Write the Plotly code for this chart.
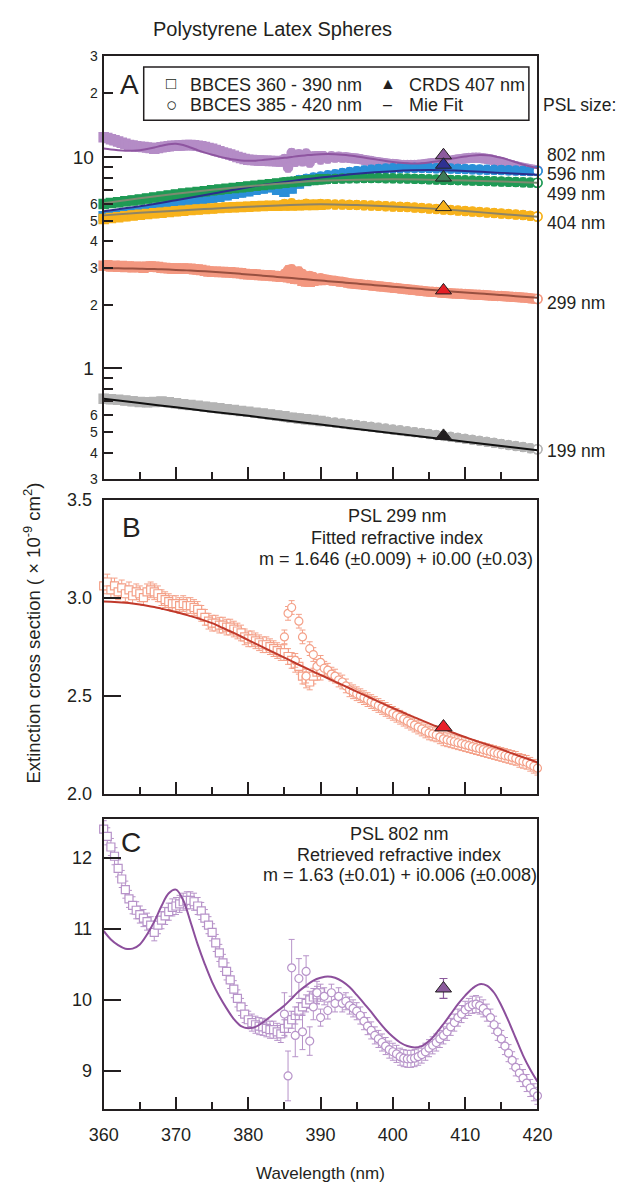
import math
import plotly.graph_objects as go

W, H = 644, 1198
FONT = "Liberation Sans, Arial, Helvetica, sans-serif"
INK = "#231f20"

# ---------------- wavelength grids (nm) ----------------
WL_SQ_FINE = [360 + 0.5 * i for i in range(61)]   # BBCES 360-390 nm
WL_CI_FINE = [385 + 0.5 * i for i in range(71)]   # BBCES 385-420 nm
WL_SQ = list(range(360, 391))
WL_CI = list(range(385, 421))
WL_FIT1 = list(range(360, 421))
WL_FIT5 = list(range(360, 421, 5))
WL_CRDS = [407]

# ---------------- PSL 299 nm (panel B and A) ----------------
B_SQ = [3.06, 3.08, 3.04, 3.06, 3.03, 3.05, 3.02, 3.04, 3.01, 3.03,
        3.02, 3.00, 3.03, 3.04, 3.03, 3.02, 3.00, 2.99, 2.98, 2.97,
        2.97, 2.96, 2.97, 2.96, 2.96, 2.95, 2.94, 2.92, 2.90, 2.88,
        2.87, 2.87, 2.86, 2.86, 2.85, 2.85, 2.84, 2.83, 2.82, 2.80,
        2.79, 2.79, 2.78, 2.77, 2.76, 2.76, 2.75, 2.74, 2.73, 2.72,
        2.72, 2.70, 2.68, 2.66, 2.65, 2.60, 2.58, 2.57, 2.60, 2.62,
        2.62]
B_CI = [2.80, 2.92, 2.95, 2.68, 2.88, 2.80, 2.60, 2.74, 2.71, 2.65,
        2.67, 2.64, 2.63, 2.61, 2.60, 2.58, 2.57, 2.55, 2.53, 2.52,
        2.51, 2.50, 2.49, 2.48, 2.47, 2.46, 2.45, 2.44, 2.43, 2.42,
        2.41, 2.40, 2.39, 2.38, 2.37, 2.36, 2.35, 2.34, 2.33, 2.32,
        2.31, 2.305, 2.30, 2.29, 2.28, 2.275, 2.27, 2.265, 2.26, 2.255,
        2.25, 2.245, 2.24, 2.235, 2.23, 2.225, 2.22, 2.215, 2.21, 2.205,
        2.20, 2.195, 2.19, 2.185, 2.18, 2.17, 2.165, 2.16, 2.15, 2.14,
        2.13]
B_FIT = [2.980, 2.979, 2.977, 2.974, 2.970, 2.965, 2.959, 2.952, 2.944, 2.936,
         2.927, 2.917, 2.906, 2.895, 2.883, 2.870, 2.854, 2.837, 2.820, 2.802,
         2.784, 2.766, 2.748, 2.730, 2.712, 2.694, 2.676, 2.658, 2.641, 2.623,
         2.606, 2.589, 2.572, 2.555, 2.538, 2.521, 2.504, 2.487, 2.470, 2.453,
         2.437, 2.421, 2.405, 2.389, 2.374, 2.359, 2.344, 2.330, 2.316, 2.302,
         2.289, 2.276, 2.263, 2.251, 2.239, 2.227, 2.212, 2.199, 2.186, 2.173,
         2.160]
B_CRDS = [2.34]

# ---------------- PSL 802 nm (panel C and A) ----------------
C_SQ = [12.40, 12.30, 12.15, 12.02, 11.85, 11.70, 11.55, 11.42, 11.33, 11.26,
        11.20, 11.15, 11.10, 11.05, 10.95, 11.05, 11.12, 11.18, 11.24, 11.30,
        11.32, 11.35, 11.38, 11.40, 11.40, 11.38, 11.32, 11.25, 11.15, 11.05,
        10.95, 10.80, 10.66, 10.52, 10.40, 10.28, 10.15, 10.02, 9.90, 9.80,
        9.72, 9.68, 9.65, 9.63, 9.62, 9.60, 9.58, 9.58, 9.55, 9.52,
        9.60, 9.66, 9.72, 9.78, 9.84, 9.90, 9.95, 10.00, 10.04, 10.07,
        10.10]
C_CI = [9.80, 8.93, 10.45, 9.50, 10.30, 9.55, 10.40, 9.42, 9.90, 10.10,
        9.75, 10.05, 9.85, 10.10, 9.95, 10.05, 9.95, 9.98, 9.92, 9.88,
        9.84, 9.78, 9.70, 9.63, 9.57, 9.50, 9.45, 9.40, 9.35, 9.30,
        9.27, 9.24, 9.20, 9.18, 9.17, 9.17, 9.18, 9.20, 9.23, 9.27,
        9.32, 9.36, 9.40, 9.45, 9.50, 9.55, 9.62, 9.68, 9.75, 9.80,
        9.86, 9.90, 9.93, 9.94, 9.92, 9.88, 9.82, 9.75, 9.65, 9.55,
        9.45, 9.35, 9.25, 9.15, 9.05, 8.97, 8.90, 8.83, 8.76, 8.70,
        8.65]
C_CI_ERR = [0.30, 0.35, 0.40, 0.30, 0.28, 0.25, 0.22, 0.20, 0.18, 0.16] + [0.12] * 61
C_FIT = [10.97, 10.85, 10.77, 10.72, 10.72, 10.78, 10.92, 11.10, 11.32, 11.50,
         11.55, 11.40, 11.10, 10.78, 10.50, 10.25, 10.05, 9.88, 9.73, 9.63,
         9.60, 9.62, 9.68, 9.76, 9.84, 9.92, 10.02, 10.12, 10.20, 10.27,
         10.31, 10.33, 10.31, 10.26, 10.18, 10.07, 9.95, 9.83, 9.70, 9.58,
         9.48, 9.40, 9.35, 9.33, 9.35, 9.42, 9.53, 9.66, 9.80, 9.94,
         10.06, 10.16, 10.22, 10.20, 10.10, 9.92, 9.70, 9.46, 9.22, 9.02,
         8.85]
C_CRDS = [10.16]
C_CRDS_ERR = [0.14]

# ---------------- other PSL sizes (panel A only) ----------------
S596_SQ = [5.25, 5.30, 5.34, 5.40, 5.46, 5.52, 5.60, 5.70, 5.80, 5.90,
           5.98, 6.06, 6.14, 6.22, 6.30, 6.40, 6.50, 6.60, 6.70, 6.80,
           6.90, 7.00, 7.10, 7.20, 7.00, 6.85, 7.10, 7.50, 7.70, 7.85, 7.95]
S596_CI = [7.50, 7.65, 7.80, 7.90, 8.00, 8.10, 8.20, 8.30, 8.40, 8.50,
           8.58, 8.65, 8.72, 8.78, 8.82, 8.85, 8.88, 8.90, 8.90, 8.90,
           8.88, 8.86, 8.84, 8.82, 8.80, 8.78, 8.76, 8.74, 8.72, 8.70,
           8.68, 8.66, 8.64, 8.62, 8.60, 8.60]
S596_FIT = [5.55, 5.85, 6.25, 6.70, 7.20, 7.62, 8.00, 8.35, 8.58, 8.68, 8.60, 8.42, 8.25]

S499_SQ = [6.00, 6.06, 6.12, 6.18, 6.24, 6.30, 6.37, 6.44, 6.51, 6.58,
           6.65, 6.72, 6.78, 6.84, 6.90, 6.96, 7.02, 7.08, 7.14, 7.20,
           7.26, 7.32, 7.38, 7.44, 7.50, 7.56, 7.62, 7.68, 7.74, 7.80, 7.85]
S499_CI = [7.60, 7.65, 7.70, 7.75, 7.80, 7.85, 7.88, 7.90, 7.92, 7.94,
           7.95, 7.96, 7.96, 7.96, 7.95, 7.94, 7.93, 7.92, 7.90, 7.88,
           7.86, 7.84, 7.82, 7.80, 7.78, 7.76, 7.74, 7.72, 7.70, 7.68,
           7.66, 7.64, 7.62, 7.60, 7.58, 7.56]
S499_FIT = [6.05, 6.38, 6.70, 7.00, 7.28, 7.52, 7.72, 7.82, 7.85, 7.82, 7.75, 7.66, 7.57]

S404_SQ = [5.10, 5.15, 5.20, 5.25, 5.30, 5.34, 5.38, 5.42, 5.46, 5.50,
           5.54, 5.58, 5.62, 5.65, 5.68, 5.71, 5.74, 5.77, 5.79, 5.81,
           5.83, 5.85, 5.87, 5.88, 5.89, 5.90, 5.91, 5.92, 5.93, 5.94, 5.95]
S404_CI = [6.00, 6.05, 5.95, 6.02, 5.97, 6.00, 5.98, 5.97, 5.96, 5.95,
           5.94, 5.92, 5.90, 5.88, 5.86, 5.84, 5.82, 5.80, 5.77, 5.74,
           5.71, 5.68, 5.65, 5.62, 5.59, 5.56, 5.53, 5.50, 5.47, 5.44,
           5.41, 5.38, 5.35, 5.32, 5.28, 5.24]
S404_FIT = [5.30, 5.45, 5.58, 5.70, 5.82, 5.92, 5.98, 5.93, 5.84, 5.72, 5.56, 5.38, 5.22]

S199_SQ = [0.720, 0.716, 0.712, 0.706, 0.700, 0.695, 0.692, 0.695, 0.698, 0.693,
           0.684, 0.678, 0.672, 0.666, 0.660, 0.654, 0.648, 0.642, 0.636, 0.630,
           0.624, 0.618, 0.612, 0.606, 0.600, 0.594, 0.585, 0.580, 0.575, 0.570, 0.565]
S199_CI = [0.590, 0.585, 0.580, 0.575, 0.570, 0.565, 0.560, 0.555, 0.550, 0.545,
           0.540, 0.535, 0.530, 0.525, 0.520, 0.515, 0.510, 0.505, 0.500, 0.495,
           0.490, 0.485, 0.480, 0.475, 0.470, 0.465, 0.460, 0.455, 0.450, 0.445,
           0.440, 0.435, 0.430, 0.425, 0.420, 0.415]
S199_FIT = [0.720, 0.687, 0.655, 0.625, 0.597, 0.569, 0.543, 0.518, 0.494, 0.472, 0.450, 0.430, 0.410]

A_CRDS = {"199": 0.48, "299": 2.34, "404": 5.80, "499": 8.00, "596": 9.20, "802": 10.20}

PSL_LABELS = ["802 nm", "596 nm", "499 nm", "404 nm", "299 nm", "199 nm"]
LOG_MINOR_LABELS = [(0.3, "3"), (0.4, "4"), (0.5, "5"), (0.6, "6"),
                    (2, "2"), (3, "3"), (4, "4"), (5, "5"), (6, "6"),
                    (20, "2"), (30, "3")]

# ---------------- colours ----------------
COL = {
    "802": dict(m="#b48cc6", line="#8e55a0", tri="#8c5a9e"),
    "596": dict(m="#2b8fd8", line="#2b2d8c", tri="#2e3192"),
    "499": dict(m="#1f9a55", line="#7d8a70", tri="#3d7a58"),
    "404": dict(m="#f7b21c", line="#8e8466", tri="#f7b21c"),
    "299": dict(m="#f39880", line="#985040", tri="#e41e26"),
    "199": dict(m="#b4b4b4", line="#111111", tri="#231f20"),
}
B_MARK = "#f4a088"
B_LINE = "#c0392b"
C_MARK = "#b793c9"
C_LINE = "#8c4f9c"


def px(x):
    return x / W


def py(y):
    return 1 - y / H


fig = go.Figure()


def markers(x, y, sym, color, xa, ya, size, err=None, errpct=None, width=1.2, fill="white"):
    ey = None
    if err is not None:
        if isinstance(err, list):
            ey = dict(type="data", array=err, color=color, thickness=1, width=3)
        else:
            ey = dict(type="constant", value=err, color=color, thickness=1, width=3)
    elif errpct is not None:
        ey = dict(type="percent", value=errpct, color=color, thickness=1.5, width=3)
    fig.add_trace(go.Scatter(
        x=x, y=y, mode="markers", xaxis=xa, yaxis=ya, cliponaxis=False,
        marker=dict(symbol=sym, size=size, color=fill,
                    line=dict(color=color, width=width)),
        error_y=ey, hoverinfo="skip"))


def fitline(x, y, color, xa, ya, width=2):
    fig.add_trace(go.Scatter(x=x, y=y, mode="lines", xaxis=xa, yaxis=ya,
                             line=dict(color=color, width=width, shape="spline"),
                             hoverinfo="skip"))


def tri(x, y, color, xa, ya, size, err=None):
    fig.add_trace(go.Scatter(
        x=x, y=y, mode="markers", xaxis=xa, yaxis=ya, cliponaxis=False,
        marker=dict(symbol="triangle-up", size=size, color=color,
                    line=dict(color=INK, width=1)),
        error_y=(dict(type="data", array=err, color=color, thickness=1.2, width=4)
                 if err else None),
        hoverinfo="skip"))


# ---------------- Panel A ----------------
series_A = [
    ("802", WL_SQ_FINE, C_SQ, WL_CI_FINE, C_CI, WL_FIT1, C_FIT),
    ("596", WL_SQ, S596_SQ, WL_CI, S596_CI, WL_FIT5, S596_FIT),
    ("499", WL_SQ, S499_SQ, WL_CI, S499_CI, WL_FIT5, S499_FIT),
    ("404", WL_SQ, S404_SQ, WL_CI, S404_CI, WL_FIT5, S404_FIT),
    ("299", WL_SQ_FINE, B_SQ, WL_CI_FINE, B_CI, WL_FIT1, B_FIT),
    ("199", WL_SQ, S199_SQ, WL_CI, S199_CI, WL_FIT5, S199_FIT),
]
for key, xs, ys, xc, yc, xf, yf in series_A:
    c = COL[key]
    markers(xs, ys, "square", c["m"], "x", "y", 9, errpct=4.5, width=1.5, fill=c["m"])
    markers(xc, yc, "circle", c["m"], "x", "y", 9, errpct=4.5, width=1.5, fill=c["m"])
    # open end markers at the long-wavelength end
    markers([xc[-1]], [yc[-1]], "circle", c["m"], "x", "y", 9, width=1.5)
for key, xs, ys, xc, yc, xf, yf in series_A:
    fitline(xf, yf, COL[key]["line"], "x", "y", width=2)
for key in ["802", "596", "499", "404", "299", "199"]:
    tri(WL_CRDS, [A_CRDS[key]], COL[key]["tri"], "x", "y", 14)

# ---------------- Panel B ----------------
markers(WL_SQ_FINE, B_SQ, "square", B_MARK, "x2", "y2", 8, err=0.04)
markers(WL_CI_FINE, B_CI, "circle", B_MARK, "x2", "y2", 8, err=0.035)
fitline(WL_FIT1, B_FIT, B_LINE, "x2", "y2", width=2)
tri(WL_CRDS, B_CRDS, "#e8202a", "x2", "y2", 15)

# ---------------- Panel C ----------------
markers(WL_SQ_FINE, C_SQ, "square", C_MARK, "x3", "y3", 8, err=0.12)
markers(WL_CI_FINE, C_CI, "circle", C_MARK, "x3", "y3", 8, err=C_CI_ERR)
fitline(WL_FIT1, C_FIT, C_LINE, "x3", "y3", width=2)
tri(WL_CRDS, C_CRDS, "#8b5a9c", "x3", "y3", 14, err=C_CRDS_ERR)

# ---------------- axes ----------------
XDOM = [px(93), px(548)]


def xaxis(anchor, labels):
    return dict(domain=XDOM, range=[360, 420], anchor=anchor,
                showline=True, mirror=True, linecolor=INK, linewidth=2,
                ticks="inside", ticklen=12, tickwidth=2, tickcolor=INK,
                tick0=360, dtick=10,
                minor=dict(ticks="inside", dtick=5, ticklen=7, tickwidth=2, tickcolor=INK),
                showgrid=False, zeroline=False, showticklabels=labels,
                ticklabelstandoff=8,
                tickfont=dict(family=FONT, size=18, color=INK))


def yaxis_lin(anchor, dom, rng, vals, fmt):
    return dict(domain=dom, range=rng, anchor=anchor,
                showline=True, mirror=True, linecolor=INK, linewidth=2,
                ticks="inside", ticklen=17, tickwidth=2, tickcolor=INK,
                tickvals=vals, tickformat=fmt,
                showgrid=False, zeroline=False, ticklabelstandoff=6,
                tickfont=dict(family=FONT, size=18, color=INK))


fig.update_layout(
    xaxis=xaxis("y", False),
    xaxis2=xaxis("y2", False),
    xaxis3=xaxis("y3", True),
    yaxis=dict(domain=[py(477), py(47)], type="log",
               range=[math.log10(0.3), math.log10(30)], anchor="x",
               showline=True, mirror=True, linecolor=INK, linewidth=2,
               ticks="inside", ticklen=18, tickwidth=2, tickcolor=INK,
               tickvals=[1, 10], ticktext=["1", "10"],
               minor=dict(ticks="inside", ticklen=9, tickwidth=2, tickcolor=INK,
                          tickvals=[0.3, 0.4, 0.5, 0.6, 0.7, 0.8, 0.9,
                                    2, 3, 4, 5, 6, 7, 8, 9, 20, 30]),
               showgrid=False, zeroline=False, ticklabelstandoff=4,
               tickfont=dict(family=FONT, size=19, color=INK)),
    yaxis2=yaxis_lin("x2", [py(797), py(498)], [2.0, 3.5], [2.0, 2.5, 3.0, 3.5], ".1f"),
    yaxis3=yaxis_lin("x3", [py(1118), py(823)], [8.46, 12.54], [9, 10, 11, 12], "d"),
    width=W, height=H, margin=dict(l=0, r=0, t=0, b=0),
    paper_bgcolor="white", plot_bgcolor="white",
    showlegend=False, hovermode=False,
    font=dict(family=FONT, color=INK),
)

ann = []


def text(t, x, y, size, xanchor="center", angle=0):
    ann.append(dict(text=t, x=px(x), y=py(y), xref="paper", yref="paper",
                    xanchor=xanchor, yanchor="middle", showarrow=False,
                    textangle=angle, font=dict(family=FONT, size=size, color=INK)))


# small labels on the log axis
for v, lab in LOG_MINOR_LABELS:
    ann.append(dict(text=lab, x=px(89), y=math.log10(v), xref="paper", yref="y",
                    xanchor="right", yanchor="middle", showarrow=False,
                    font=dict(family=FONT, size=14, color=INK)))

text("Polystyrene Latex Spheres", 270, 19, 20)
text("A", 120, 76, 28)
text("B", 122, 526, 28)
text("C", 122, 847, 28)

# legend box contents
text("\u25a1", 164, 75, 17, "center")
text("BBCES 360 - 390 nm", 181, 76, 18, "left")
text("\u25cb", 164, 96, 19, "center")
text("BBCES 385 - 420 nm", 181, 97, 18, "left")
text("\u25b2", 391, 75, 16, "center")
text("CRDS 407 nm", 411, 76, 18, "left")
text("\u2013", 391, 96, 16, "center")
text("Mie Fit", 411, 97, 18, "left")

text("PSL size:", 552, 97, 17.5, "left")
for lab, yy in zip(PSL_LABELS, [147, 167, 187, 217, 298, 448]):
    text(lab, 556, yy, 17.5, "left")

text("PSL 299 nm", 401, 515, 18)
text("Fitted refractive index", 401, 537, 18)
text("m = 1.646 (\u00b10.009) + i0.00 (\u00b10.03)", 400, 558, 18)

text("PSL 802 nm", 403, 838, 18)
text("Retrieved refractive index", 403, 859, 18)
text("m = 1.63 (\u00b10.01) + i0.006 (\u00b10.008)", 404, 880, 18)

text("Wavelength (nm)", 320, 1183, 17)
text("Extinction cross section ( \u00d7 10<sup>-9</sup> cm<sup>2</sup>)", 18, 634, 18.5, "center", -90)

fig.update_layout(
    annotations=ann,
    shapes=[dict(type="rect", xref="paper", yref="paper",
                 x0=px(135), x1=px(539), y0=py(112), y1=py(58),
                 line=dict(color=INK, width=1.5), fillcolor="white", layer="above")],
)

fig.write_html("out.html")
